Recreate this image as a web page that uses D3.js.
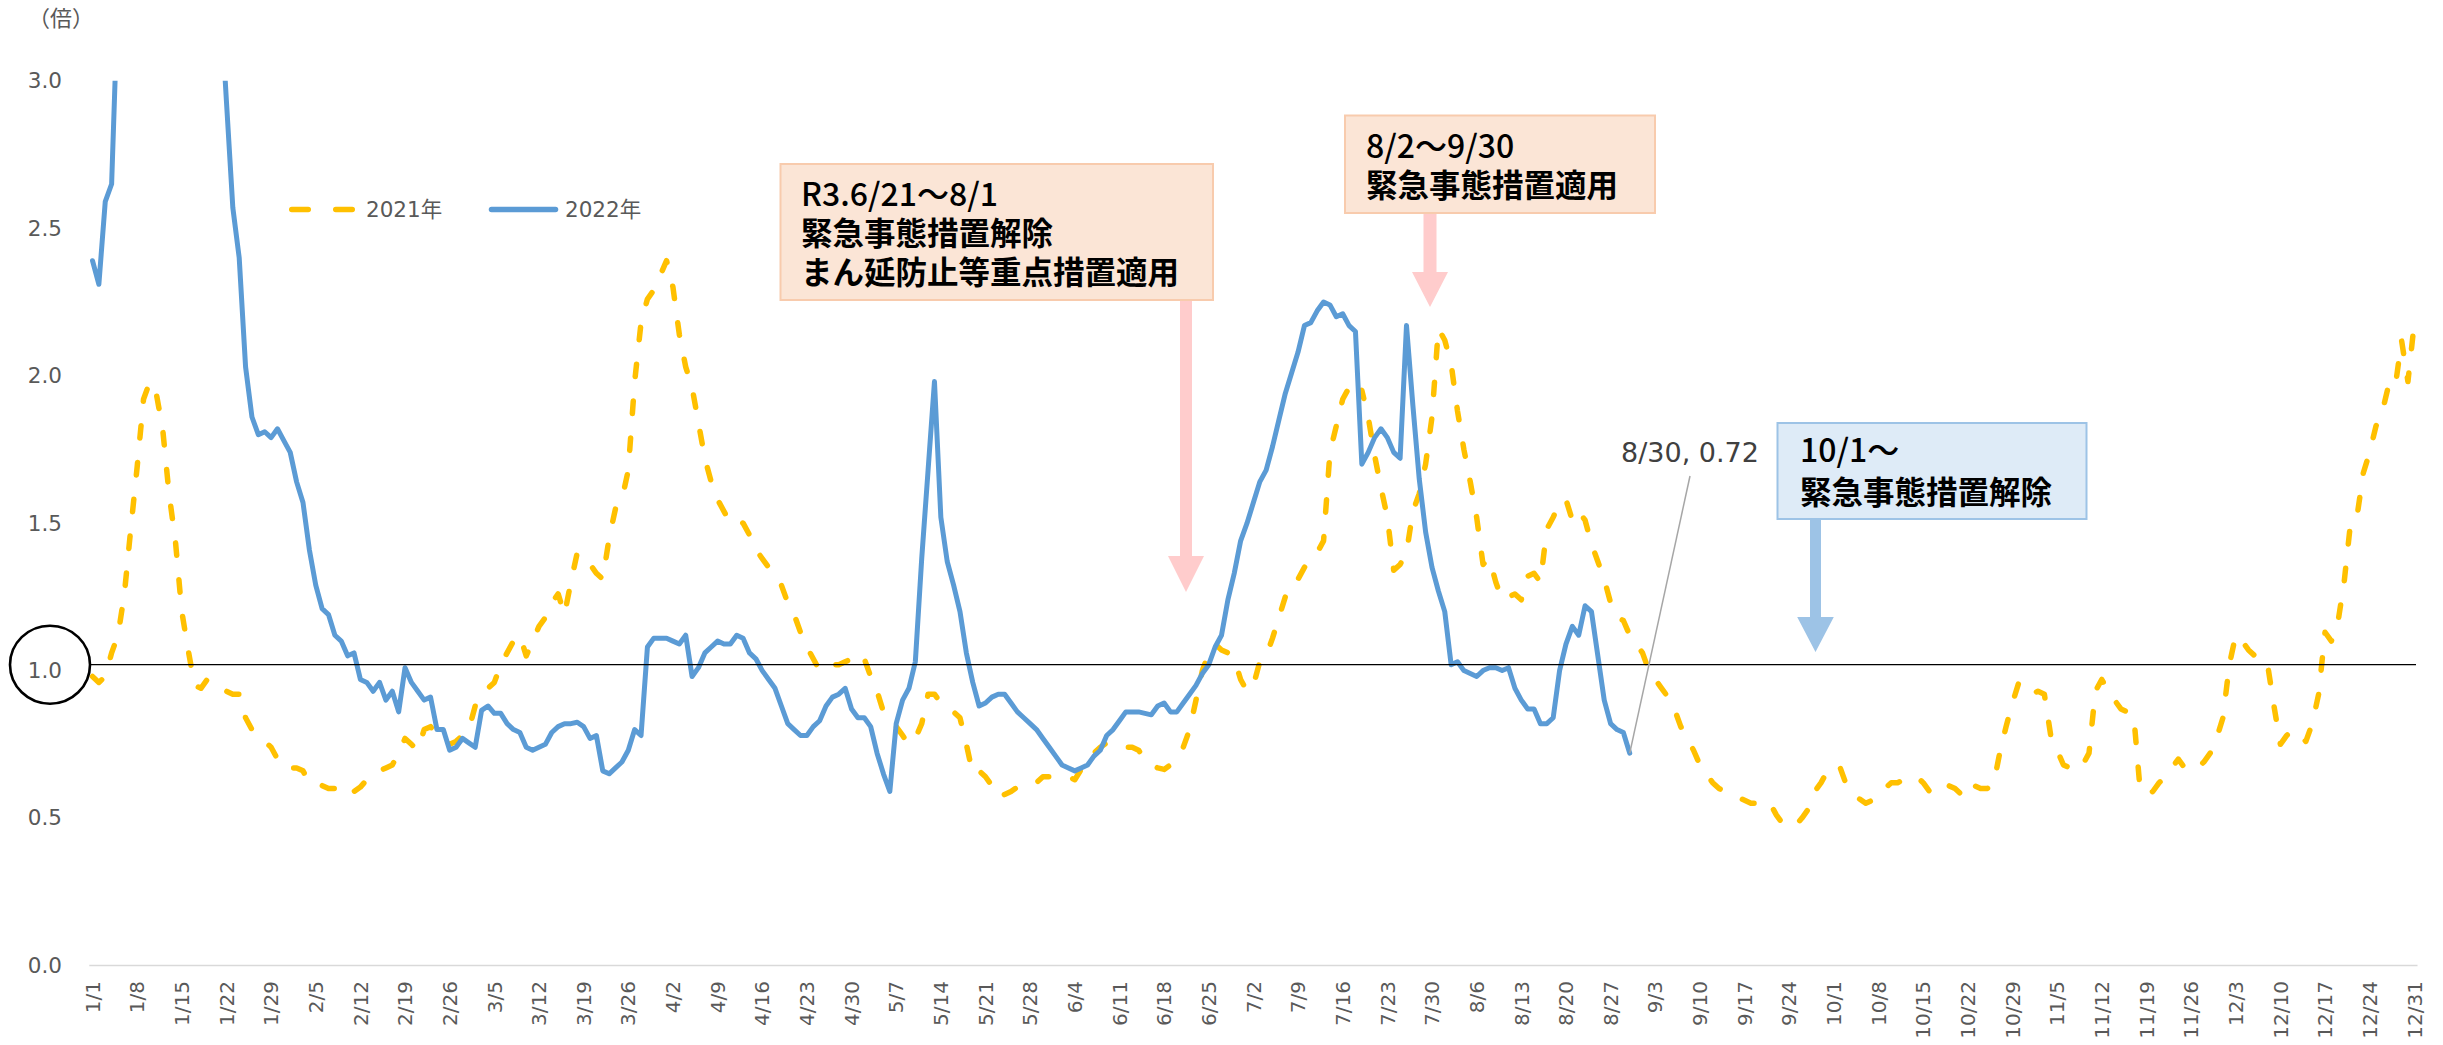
<!DOCTYPE html>
<html>
<head>
<meta charset="utf-8">
<script src="https://cdn.jsdelivr.net/npm/d3@7"></script>
<style>
  body { margin: 0; background: #ffffff; }
  svg { display: block; }
</style>
</head>
<body>
<svg id="chart" width="2443" height="1045"></svg>
<script>
// ---------------- DATA ----------------
const yearStart = [2021, 0, 1];
const yearEnd = [2022, 0, 1];
const tickStep = 7;
const yTicks = [0, 0.5, 1.0, 1.5, 2.0, 2.5, 3.0];
const seriesNames = ["2021年", "2022年"];
const unitLabel = "（倍）";
const referenceLevel = 1.02;
const lastPointLabel = "8/30, 0.72";

// 2021: 1/1 .. 12/31 (365 daily values)
const values2021 = [
  0.98, 0.96, 0.98, 1.06, 1.12, 1.26, 1.48, 1.69, 1.92, 1.98,
  1.94, 1.82, 1.60, 1.44, 1.20, 1.07, 0.95, 0.94, 0.97, 0.95,
  0.94, 0.93, 0.92, 0.92, 0.84, 0.80, 0.78, 0.76, 0.74, 0.70,
  0.67, 0.67, 0.67, 0.66, 0.62, 0.61, 0.61, 0.60, 0.60, 0.605,
  0.58, 0.59, 0.605, 0.63, 0.65, 0.66, 0.67, 0.68, 0.72, 0.77,
  0.75, 0.73, 0.80, 0.81, 0.78, 0.76, 0.75, 0.76, 0.78, 0.80,
  0.88, 0.92, 0.94, 0.96, 1.02, 1.06, 1.10, 1.12, 1.05, 1.10,
  1.15, 1.18, 1.23, 1.26, 1.19, 1.30, 1.40, 1.38, 1.36, 1.33,
  1.31, 1.45, 1.55, 1.58, 1.68, 1.98, 2.18, 2.26, 2.29, 2.34,
  2.39, 2.30, 2.14, 2.03, 1.96, 1.84, 1.72, 1.64, 1.58, 1.54,
  1.50, 1.51, 1.50, 1.46, 1.41, 1.38, 1.35, 1.32, 1.29, 1.23,
  1.19, 1.13, 1.08, 1.04, 1.00, 1.01, 1.02, 1.02, 1.03, 1.04,
  1.06, 1.04, 0.98, 0.93, 0.86, 0.83, 0.81, 0.78, 0.75, 0.77,
  0.82, 0.92, 0.92, 0.89, 0.88, 0.86, 0.84, 0.75, 0.65, 0.66,
  0.64, 0.61, 0.57, 0.58, 0.59, 0.605, 0.61, 0.61, 0.62, 0.64,
  0.64, 0.64, 0.64, 0.64, 0.63, 0.665, 0.69, 0.72, 0.74, 0.755,
  0.75, 0.75, 0.74, 0.74, 0.73, 0.70, 0.68, 0.67, 0.665, 0.68,
  0.71, 0.74, 0.80, 0.90, 1.00, 1.06, 1.09, 1.07, 1.06, 1.04,
  0.97, 0.93, 0.95, 1.03, 1.05, 1.11, 1.18, 1.25, 1.30, 1.31,
  1.35, 1.38, 1.40, 1.44, 1.74, 1.83, 1.92, 1.96, 1.92, 1.95,
  1.86, 1.73, 1.62, 1.52, 1.34, 1.36, 1.40, 1.54, 1.60, 1.70,
  1.86, 2.16, 2.12, 2.04, 1.88, 1.75, 1.64, 1.52, 1.36, 1.38,
  1.30, 1.24, 1.25, 1.26, 1.24, 1.32, 1.33, 1.30, 1.48, 1.52,
  1.57, 1.58, 1.51, 1.54, 1.51, 1.43, 1.37, 1.31, 1.23, 1.18,
  1.17, 1.12, 1.09, 1.06, 1.00, 0.97, 0.94, 0.91, 0.87, 0.81,
  0.77, 0.73, 0.68, 0.65, 0.62, 0.60, 0.59, 0.58, 0.57, 0.56,
  0.55, 0.55, 0.54, 0.55, 0.51, 0.48, 0.47, 0.475, 0.50, 0.53,
  0.59, 0.62, 0.66, 0.68, 0.67, 0.61, 0.58, 0.565, 0.55, 0.56,
  0.57, 0.60, 0.62, 0.62, 0.63, 0.64, 0.64, 0.62, 0.59, 0.58,
  0.60, 0.61, 0.60, 0.58, 0.62, 0.61, 0.60, 0.60, 0.61, 0.72,
  0.81, 0.89, 0.96, 0.94, 0.92, 0.93, 0.92, 0.78, 0.73, 0.68,
  0.67, 0.69, 0.68, 0.72, 0.93, 0.97, 0.93, 0.90, 0.87, 0.86,
  0.85, 0.60, 0.58, 0.59, 0.62, 0.64, 0.67, 0.70, 0.67, 0.66,
  0.67, 0.69, 0.72, 0.77, 0.84, 1.02, 1.12, 1.10, 1.07, 1.05,
  1.05, 1.02, 0.88, 0.75, 0.78, 0.80, 0.78, 0.76, 0.82, 0.92,
  1.13, 1.10, 1.16, 1.30, 1.50, 1.52, 1.67, 1.74, 1.83, 1.88,
  1.97, 1.96, 2.12, 1.98, 2.18
];

// 2022: 1/1 .. 8/30 (242 daily values; values above 3.0 are clipped by the axis)
const values2022 = [
  2.39, 2.31, 2.59, 2.65, 3.3, 4.0, 5.1, 6.4, 7.5, 8.2,
  8.4, 7.9, 7.0, 6.1, 5.3, 4.6, 4.1, 3.8, 3.6, 3.45,
  3.3, 2.93, 2.57, 2.40, 2.03, 1.86, 1.80, 1.81, 1.79, 1.82,
  1.78, 1.74, 1.64, 1.57, 1.41, 1.29, 1.21, 1.19, 1.12, 1.10,
  1.05, 1.06, 0.97, 0.96, 0.93, 0.96, 0.90, 0.93, 0.86, 1.01,
  0.96, 0.93, 0.90, 0.91, 0.80, 0.80, 0.73, 0.74, 0.77, 0.755,
  0.74, 0.865, 0.88, 0.855, 0.855, 0.82, 0.80, 0.79, 0.74, 0.73,
  0.74, 0.75, 0.79, 0.81, 0.82, 0.82, 0.825, 0.81, 0.77, 0.78,
  0.66, 0.65, 0.67, 0.69, 0.73, 0.80, 0.78, 1.08, 1.11, 1.11,
  1.11, 1.10, 1.09, 1.12, 0.98, 1.01, 1.06, 1.08, 1.10, 1.09,
  1.09, 1.12, 1.11, 1.06, 1.04, 1.00, 0.97, 0.94, 0.88, 0.82,
  0.80, 0.78, 0.78, 0.81, 0.83, 0.88, 0.91, 0.92, 0.94, 0.87,
  0.84, 0.84, 0.81, 0.72, 0.65, 0.59, 0.82, 0.90, 0.94, 1.03,
  1.38, 1.68, 1.98, 1.52, 1.37, 1.29, 1.20, 1.06, 0.96, 0.88,
  0.89, 0.91, 0.92, 0.92, 0.89, 0.86, 0.84, 0.82, 0.80, 0.77,
  0.74, 0.71, 0.68, 0.67, 0.66, 0.67, 0.68, 0.71, 0.73, 0.78,
  0.80, 0.83, 0.86, 0.86, 0.86, 0.855, 0.85, 0.88, 0.89, 0.86,
  0.86, 0.89, 0.92, 0.95, 0.99, 1.02, 1.08, 1.12, 1.24, 1.33,
  1.44, 1.50, 1.57, 1.64, 1.68, 1.76, 1.85, 1.94, 2.01, 2.08,
  2.17, 2.18, 2.22, 2.25, 2.24, 2.20, 2.21, 2.17, 2.15, 1.70,
  1.74, 1.79, 1.82, 1.79, 1.74, 1.72, 2.17, 1.90, 1.65, 1.47,
  1.35, 1.27, 1.20, 1.02, 1.03, 1.00, 0.99, 0.98, 1.00, 1.01,
  1.01, 1.00, 1.01, 0.94, 0.90, 0.87, 0.87, 0.82, 0.82, 0.84,
  1.00, 1.09, 1.15, 1.12, 1.22, 1.20, 1.05, 0.90, 0.82, 0.80,
  0.79, 0.72
];

const note1Lines = ["R3.6/21～8/1", "緊急事態措置解除", "まん延防止等重点措置適用"];
const note2Lines = ["8/2～9/30", "緊急事態措置適用"];
const note3Lines = ["10/1～", "緊急事態措置解除"];

// ---------------- CHART ----------------
const fmt = d3.timeFormat("%-m/%-d");
const categories = d3.timeDay.range(new Date(...yearStart), new Date(...yearEnd)).map(fmt);
const tickLabels = categories.filter((c, i) => i % tickStep === 0);

const svg = d3.select("#chart");
const W = 2443, H = 1045;
const plotLeft = 89.3, plotRight = 2417.5;
const yBottom = 965.5, yTop = 80.8;

const x = d3.scaleBand().domain(categories).range([plotLeft, plotRight]).padding(0);
const cx = c => x(c) + x.bandwidth() / 2;
const y = d3.scaleLinear().domain([0, 3]).range([yBottom, yTop]);

const textGray = "#595959";
const latinFont = "'DejaVu Sans', Verdana, 'Noto Sans CJK JP', sans-serif";
const cjkFont = "'Noto Sans CJK JP', 'Noto Sans', sans-serif";

svg.append("rect").attr("width", W).attr("height", H).attr("fill", "#ffffff");

svg.append("defs").append("clipPath").attr("id", "plotClip")
  .append("rect").attr("x", 0).attr("y", yTop).attr("width", W).attr("height", H - yTop);

// X axis
const xAxis = svg.append("g")
  .attr("transform", `translate(0,${yBottom})`)
  .call(d3.axisBottom(x).tickValues(tickLabels).tickSize(0).tickPadding(0));
xAxis.select(".domain").attr("stroke", "#d9d9d9").attr("stroke-width", 1.5)
  .attr("d", `M${plotLeft},0H${plotRight}`);
xAxis.selectAll(".tick text")
  .attr("transform", "rotate(-90)")
  .attr("text-anchor", "end")
  .attr("x", -15.5)
  .attr("y", 0)
  .attr("dy", "0.36em")
  .attr("fill", textGray)
  .style("font-family", latinFont)
  .style("font-size", "20px");

// Y axis labels
const yAxis = svg.append("g")
  .attr("transform", "translate(65,0)")
  .call(d3.axisLeft(y).tickValues(yTicks).tickFormat(d3.format(".1f")).tickSize(0).tickPadding(3));
yAxis.select(".domain").remove();
yAxis.selectAll(".tick text")
  .attr("fill", textGray)
  .style("font-family", latinFont)
  .style("font-size", "21.5px");

// unit label
svg.append("text").attr("x", 61).attr("y", 18).attr("dy", "0.36em")
  .attr("text-anchor", "middle").attr("fill", textGray)
  .style("font-family", cjkFont).style("font-size", "22px").text(unitLabel);

// Lines
const line = d3.line().x((d, i) => cx(categories[i])).y(d => y(d));
const lines = svg.append("g").attr("clip-path", "url(#plotClip)");
lines.append("path").datum(values2021)
  .attr("d", line).attr("fill", "none")
  .attr("stroke", "#FFC000").attr("stroke-width", 5.5)
  .attr("stroke-dasharray", "12.5 24.5")
  .attr("stroke-linecap", "round").attr("stroke-linejoin", "round");
lines.append("path").datum(values2022)
  .attr("d", line).attr("fill", "none")
  .attr("stroke", "#5B9BD5").attr("stroke-width", 5)
  .attr("stroke-linecap", "round").attr("stroke-linejoin", "round");

// Reference line and circle
const refY = y(referenceLevel);
svg.append("line").attr("x1", 90).attr("x2", 2416).attr("y1", refY).attr("y2", refY)
  .attr("stroke", "#000000").attr("stroke-width", 1.3);
svg.append("ellipse").attr("cx", 50).attr("cy", refY).attr("rx", 40).attr("ry", 39)
  .attr("fill", "none").attr("stroke", "#000000").attr("stroke-width", 2.6);

// Legend
const legendY = 209.5;
svg.append("line").attr("x1", 291.75).attr("x2", 352.25).attr("y1", legendY).attr("y2", legendY)
  .attr("stroke", "#FFC000").attr("stroke-width", 5.5).attr("stroke-linecap", "round")
  .attr("stroke-dasharray", "16.5 27.5");
svg.append("text").attr("x", 366).attr("y", legendY).attr("dy", "0.36em")
  .attr("fill", textGray).style("font-family", latinFont).style("font-size", "21.5px")
  .text(seriesNames[0]);
svg.append("line").attr("x1", 491.5).attr("x2", 555.5).attr("y1", legendY).attr("y2", legendY)
  .attr("stroke", "#5B9BD5").attr("stroke-width", 5.5).attr("stroke-linecap", "round");
svg.append("text").attr("x", 565).attr("y", legendY).attr("dy", "0.36em")
  .attr("fill", textGray).style("font-family", latinFont).style("font-size", "21.5px")
  .text(seriesNames[1]);

// Last point callout
const lastIdx = values2022.length - 1;
const lpx = cx(categories[lastIdx]), lpy = y(values2022[lastIdx]);
svg.append("line").attr("x1", lpx).attr("y1", lpy).attr("x2", 1690).attr("y2", 476)
  .attr("stroke", "#a6a6a6").attr("stroke-width", 1.5);
svg.append("text").attr("x", 1621).attr("y", 461.5)
  .attr("fill", "#404040").style("font-family", latinFont).style("font-size", "27px")
  .text(lastPointLabel);

// Annotation boxes
function arrow(xc, top, headTop, tip, shaftHW, headHW, color) {
  const pts = [
    [xc - shaftHW, top], [xc + shaftHW, top], [xc + shaftHW, headTop],
    [xc + headHW, headTop], [xc, tip], [xc - headHW, headTop], [xc - shaftHW, headTop]
  ];
  svg.append("polygon").attr("points", pts.map(p => p.join(",")).join(" ")).attr("fill", color);
}
function noteBox(x0, y0, x1, y1, fill, stroke, lines, tx, baselines) {
  svg.append("rect").attr("x", x0).attr("y", y0).attr("width", x1 - x0).attr("height", y1 - y0)
    .attr("fill", fill).attr("stroke", stroke).attr("stroke-width", 2);
  lines.forEach((t, i) => {
    svg.append("text").attr("x", tx).attr("y", baselines[i])
      .attr("fill", "#000000")
      .style("font-family", cjkFont)
      .style("font-weight", i === 0 ? "500" : "700")
      .style("font-size", i === 0 ? "32px" : "31.5px")
      .text(t);
  });
}

arrow(1186, 300, 556, 592, 6, 18, "#FFCCCC");
noteBox(780.5, 164, 1213, 300, "#FBE5D6", "#F8CBAD", note1Lines, 801, [206, 245, 283.5]);

arrow(1430, 213, 272, 307, 6.5, 18, "#FFCCCC");
noteBox(1345, 115.5, 1655, 213, "#FBE5D6", "#F8CBAD", note2Lines, 1366, [158, 196.5]);

arrow(1815.5, 519, 617, 652, 5.5, 18.3, "#9DC3E6");
noteBox(1777.5, 423, 2086.5, 519, "#DEEBF7", "#9DC3E6", note3Lines, 1800, [462, 504]);
</script>
</body>
</html>
